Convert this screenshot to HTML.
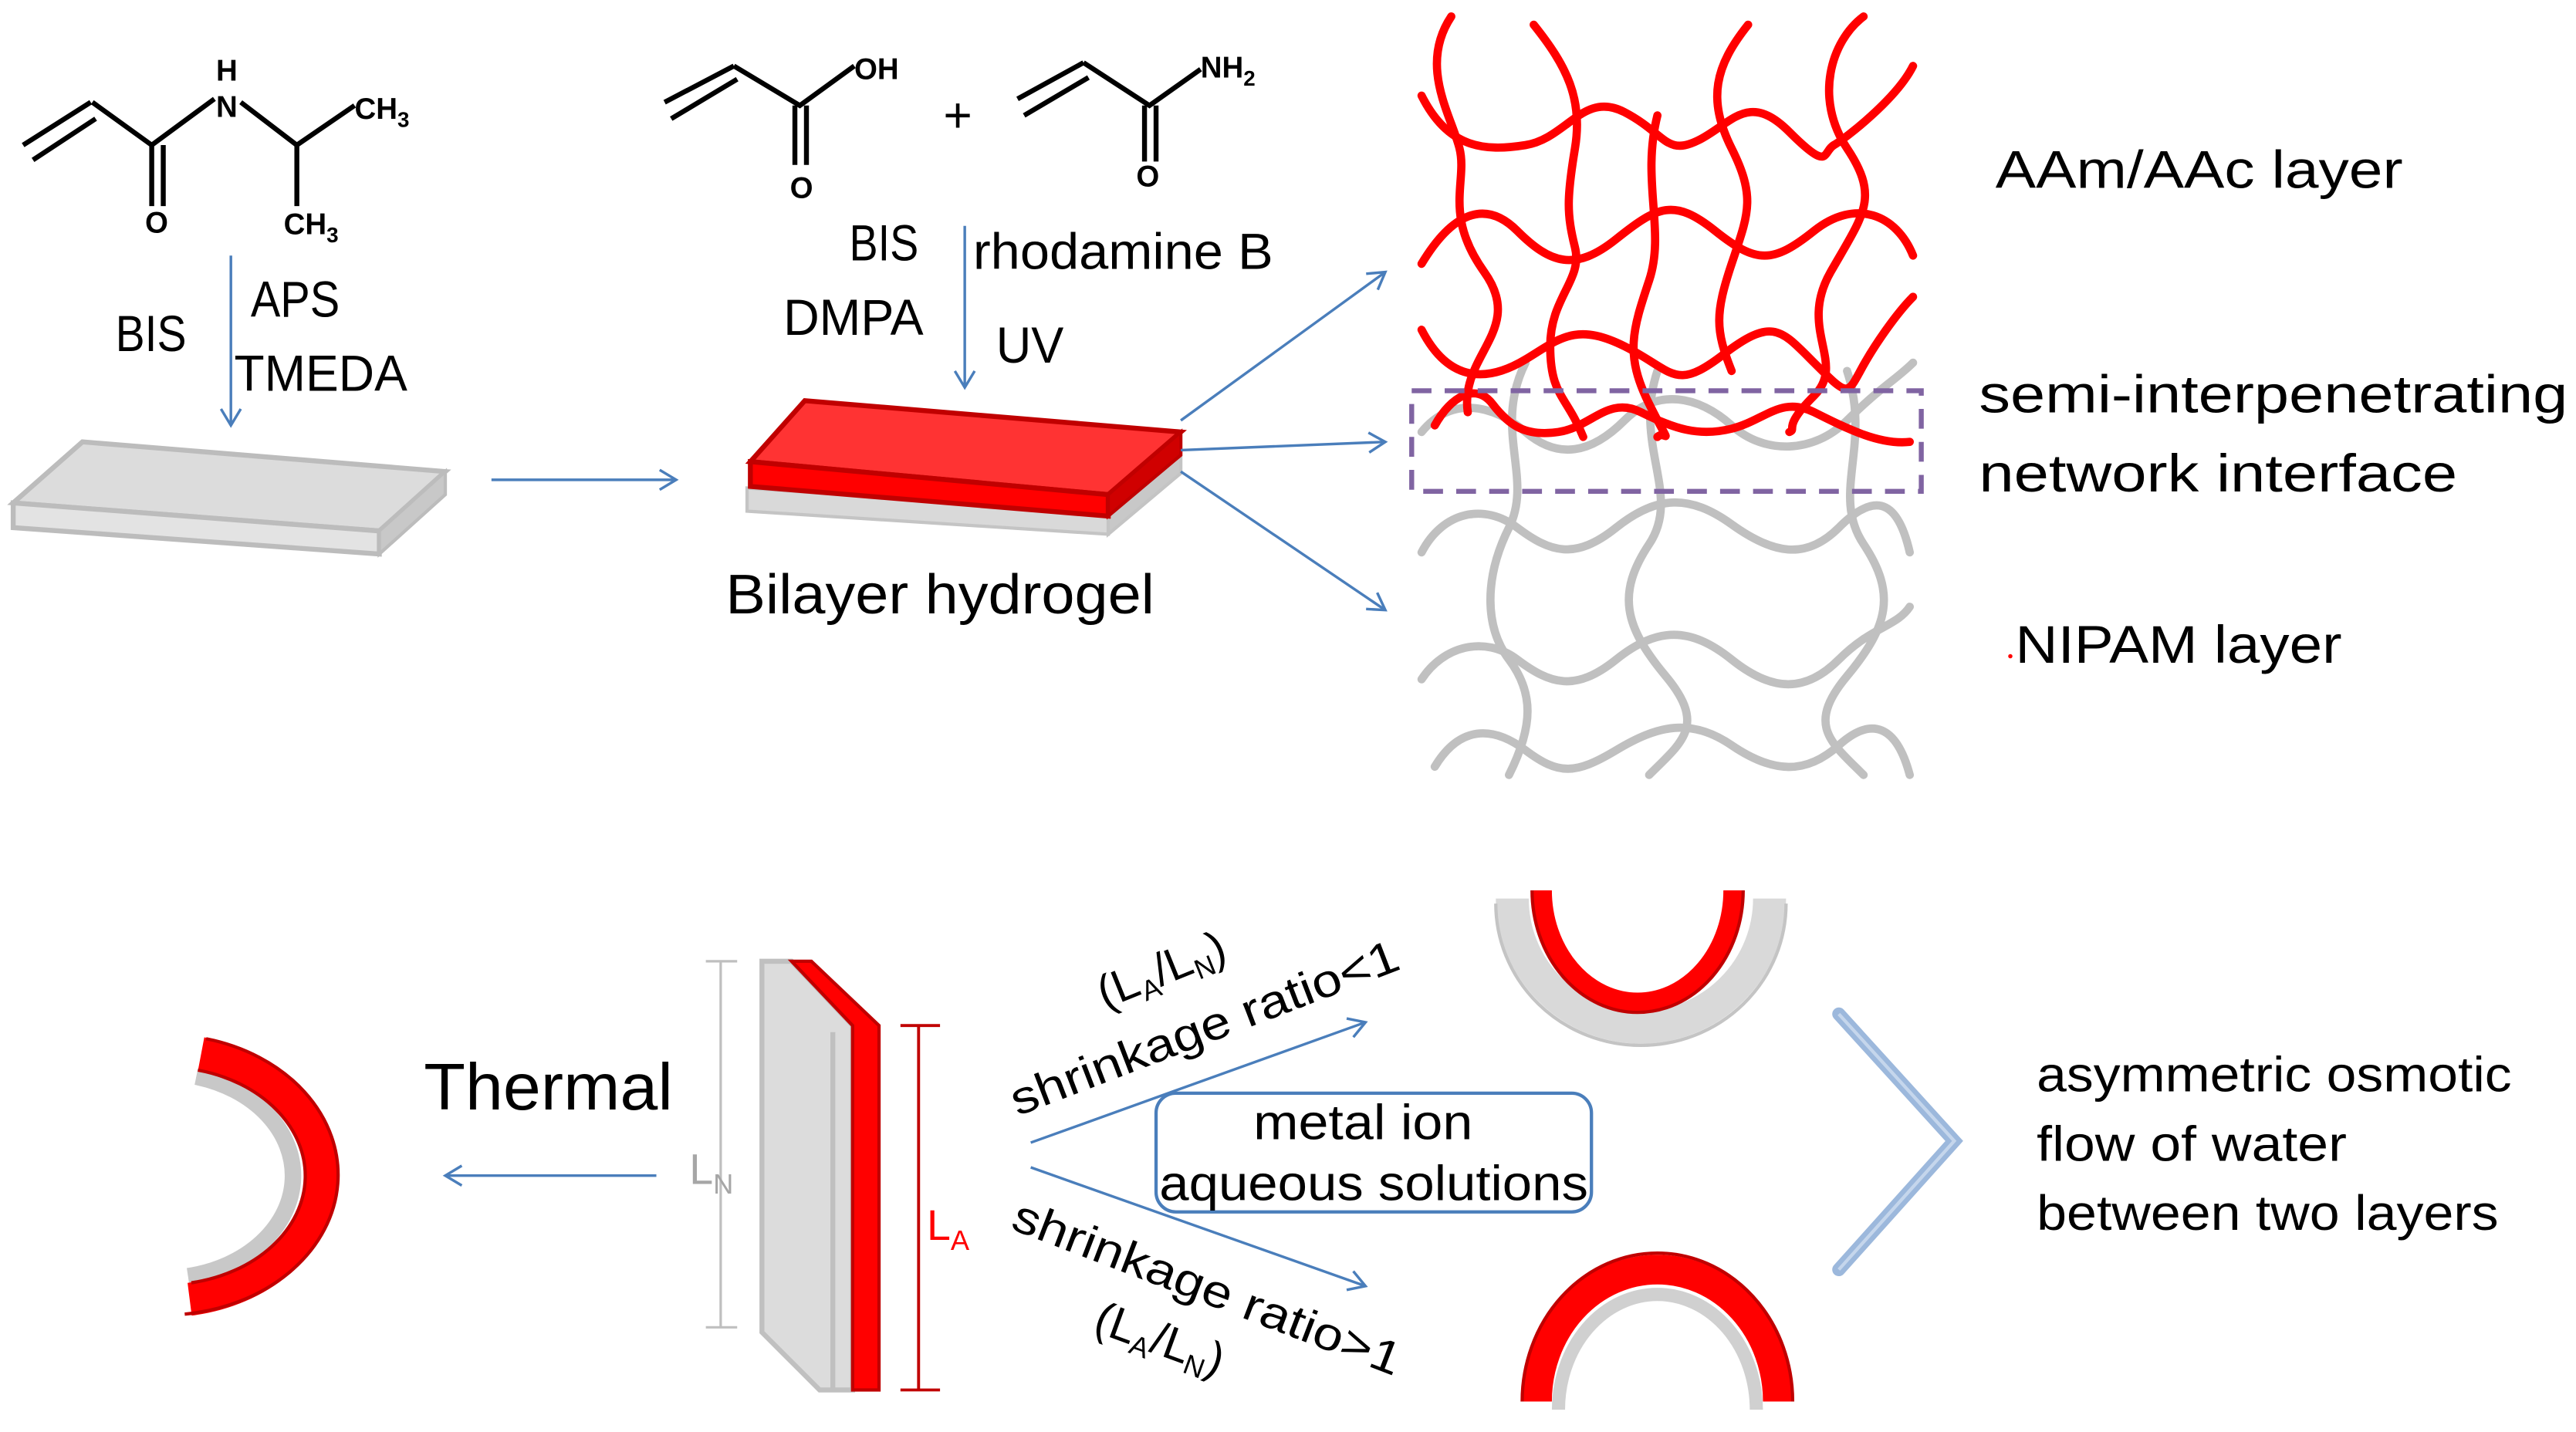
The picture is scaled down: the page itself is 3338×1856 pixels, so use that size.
<!DOCTYPE html>
<html><head><meta charset="utf-8"><style>
html,body{margin:0;padding:0;background:#fff;}
svg{display:block;}
text{font-family:"Liberation Sans",sans-serif;fill:#000;}
</style></head><body>
<svg width="3338" height="1856" viewBox="0 0 1562 868.5" xmlns="http://www.w3.org/2000/svg">
<defs>
<marker id="ah" markerWidth="14" markerHeight="14" refX="12" refY="7" orient="auto" markerUnits="userSpaceOnUse">
<path d="M2,1 L12,7 L2,13" fill="none" stroke="#4a7ebb" stroke-width="1.6"/>
</marker>
</defs>
<!-- NIPAM molecule -->
<g stroke="#000" stroke-width="3" fill="none">
<path d="M14,88 L55,62 M20,97 L58,72 M56,62 L92,88 L130,60 M92,88 L92,125 M99,88 L99,125 M146,62 L180,88 L215,64 M180,88 L180,125"/>
</g>
<g font-size="18" font-weight="bold">
<text x="131" y="49">H</text><text x="131" y="71">N</text>
<text x="215" y="72">CH<tspan font-size="13" dy="5">3</tspan></text>
<text x="88" y="141">O</text>
<text x="172" y="142">CH<tspan font-size="13" dy="5">3</tspan></text>
</g>
<line x1="140" y1="155" x2="140" y2="258" stroke="#4a7ebb" stroke-width="1.6" marker-end="url(#ah)"/>
<g font-size="31">
<text x="70" y="213" textLength="43" lengthAdjust="spacingAndGlyphs">BIS</text>
<text x="152" y="192" textLength="54" lengthAdjust="spacingAndGlyphs">APS</text>
<text x="142" y="237" textLength="105" lengthAdjust="spacingAndGlyphs">TMEDA</text>
</g>
<!-- gray slab -->
<path d="M8,305 L50,268 L270,286 L230,322 Z" fill="#dcdcdc" stroke="#bcbcbc" stroke-width="3"/>
<path d="M8,305 L230,322 L230,336 L8,320 Z" fill="#e3e3e3" stroke="#bcbcbc" stroke-width="3"/>
<path d="M230,322 L270,286 L270,300 L230,336 Z" fill="#c8c8c8" stroke="#bcbcbc" stroke-width="2"/>
<line x1="298" y1="291" x2="410" y2="291" stroke="#4a7ebb" stroke-width="1.6" marker-end="url(#ah)"/>
<!-- acrylic acid + acrylamide -->
<g stroke="#000" stroke-width="3" fill="none">
<path d="M403,62 L445,40 M407,72 L447,48 M445,40 L485,64 L518,40 M482,64 L482,100 M489,64 L489,100"/>
<path d="M617,60 L657,38 M621,70 L660,47 M657,38 L697,64 L728,42 M694,64 L694,98 M701,64 L701,98"/>
</g>
<g font-size="18" font-weight="bold">
<text x="518" y="48">OH</text><text x="479" y="120">O</text>
<text x="728" y="47">NH<tspan font-size="13" dy="5">2</tspan></text><text x="689" y="113">O</text>
</g>
<text x="572" y="80" font-size="30">+</text>
<line x1="585" y1="137" x2="585" y2="235" stroke="#4a7ebb" stroke-width="1.6" marker-end="url(#ah)"/>
<g font-size="31">
<text x="515" y="158" textLength="42" lengthAdjust="spacingAndGlyphs">BIS</text>
<text x="590" y="163" textLength="182" lengthAdjust="spacingAndGlyphs">rhodamine B</text>
<text x="475" y="203" textLength="85" lengthAdjust="spacingAndGlyphs">DMPA</text>
<text x="604" y="220" textLength="41" lengthAdjust="spacingAndGlyphs">UV</text>
</g>
<!-- bilayer -->
<path d="M453,296 L672,311 L672,324 L453,310 Z" fill="#d9d9d9" stroke="#c4c4c4" stroke-width="2"/>
<path d="M672,311 L716,274 L716,287 L672,324 Z" fill="#c8c8c8" stroke="#c4c4c4" stroke-width="2"/>
<path d="M455,280 L488,243 L716,262 L672,300 Z" fill="#ff3333" stroke="#c00000" stroke-width="3"/>
<path d="M455,280 L672,300 L672,313 L455,295 Z" fill="#ff0000" stroke="#c00000" stroke-width="3"/>
<path d="M672,300 L716,262 L716,276 L672,313 Z" fill="#d00000" stroke="#c00000" stroke-width="2"/>
<text x="440" y="372" font-size="34" textLength="260" lengthAdjust="spacingAndGlyphs">Bilayer hydrogel</text>
<line x1="716" y1="255" x2="840" y2="165" stroke="#4a7ebb" stroke-width="1.6" marker-end="url(#ah)"/>
<line x1="716" y1="273" x2="840" y2="268" stroke="#4a7ebb" stroke-width="1.6" marker-end="url(#ah)"/>
<line x1="716" y1="286" x2="840" y2="370" stroke="#4a7ebb" stroke-width="1.6" marker-end="url(#ah)"/>
<!-- gray network -->
<g stroke="#c0c0c0" stroke-width="5" fill="none" stroke-linecap="round">
<path d="M862,262 C880,240 905,245 925,262 S965,275 985,255 S1030,240 1050,258 S1100,275 1120,255 S1150,230 1160,220"/>
<path d="M862,335 C875,310 900,305 920,320 S955,340 980,320 S1025,300 1050,318 S1095,340 1115,320 S1150,300 1158,335"/>
<path d="M862,412 C875,392 900,385 920,400 S955,420 980,400 S1025,380 1050,400 S1095,420 1115,400 S1150,380 1158,368"/>
<path d="M870,465 C885,440 905,440 925,455 S955,470 980,455 S1025,435 1050,452 S1095,470 1115,452 S1150,440 1158,470"/>
<path d="M925,220 C905,260 930,290 915,320 S900,380 915,400 S930,440 915,470"/>
<path d="M1005,225 C990,270 1020,300 1000,330 S985,380 1010,410 S1020,450 1000,470"/>
<path d="M1120,225 C1135,270 1110,300 1130,330 S1145,380 1120,410 S1110,450 1130,470"/>
</g>
<!-- red network -->
<g stroke="#ff0000" stroke-width="5" fill="none" stroke-linecap="round">
<path d="M862,58 C878,90 900,92 925,88 S960,55 985,68 S1010,95 1030,85 S1060,55 1085,80 S1105,92 1112,88 S1150,60 1160,40"/>
<path d="M862,160 C880,130 900,120 920,140 S955,165 980,145 S1015,120 1040,140 S1075,160 1100,140 S1150,130 1160,155"/>
<path d="M862,200 C880,235 905,230 925,218 S955,195 985,210 S1015,238 1045,215 S1080,200 1100,220 S1120,240 1128,225 S1150,190 1160,180"/>
<path d="M870,258 C880,240 895,232 905,245 S925,265 945,262 S975,240 995,250 S1030,265 1050,260 S1080,240 1100,250 S1140,270 1158,268"/>
<path d="M880,10 C860,40 880,70 885,90 S875,130 900,165 S885,215 890,250"/>
<path d="M930,15 C950,40 960,60 955,90 S950,130 955,150 S940,180 940,210 S950,240 960,265"/>
<path d="M1060,15 C1040,40 1035,60 1050,90 S1060,130 1050,160 S1040,200 1050,225"/>
<path d="M1130,10 C1110,25 1100,60 1120,90 S1130,130 1110,165 S1120,220 1100,240 S1090,260 1085,262"/>
<path d="M1005,70 C995,110 1010,140 1000,170 S985,215 1000,245 S1010,260 1005,265"/>
</g>
<rect x="856" y="237" width="309" height="61" fill="none" stroke="#8064a2" stroke-width="3" stroke-dasharray="12,8"/>
<g font-size="32">
<text x="1210" y="114" textLength="247" lengthAdjust="spacingAndGlyphs">AAm/AAc layer</text>
<text x="1200" y="250" textLength="357" lengthAdjust="spacingAndGlyphs">semi-interpenetrating</text>
<text x="1200" y="298" textLength="290" lengthAdjust="spacingAndGlyphs">network interface</text>
<text x="1222" y="402" textLength="198" lengthAdjust="spacingAndGlyphs">NIPAM layer</text>
</g>
<circle cx="1219" cy="398" r="1.3" fill="#ff0000"/>
<!-- bottom left curved -->
<path d="M119,653 A78,62 0 0 1 114,774" fill="none" stroke="#c8c8c8" stroke-width="10"/>
<path d="M122,639 A95,76 0 0 1 115,788" fill="none" stroke="#ff0000" stroke-width="20"/>
<path d="M125,630 A105,85 0 0 1 112,797" fill="none" stroke="#c00000" stroke-width="2"/>
<path d="M120,649 A85,66 0 0 1 116,778" fill="none" stroke="#c00000" stroke-width="2"/>
<text x="257" y="673" font-size="40" textLength="151" lengthAdjust="spacingAndGlyphs">Thermal</text>
<line x1="398" y1="713" x2="270" y2="713" stroke="#4a7ebb" stroke-width="1.6" marker-end="url(#ah)"/>
<!-- vertical slab -->
<g stroke="#bfbfbf" stroke-width="1.5"><line x1="437" y1="583" x2="437" y2="805"/><line x1="428" y1="583" x2="447" y2="583"/><line x1="428" y1="805" x2="447" y2="805"/></g>
<text x="418" y="718" font-size="26" style="fill:#a6a6a6">L<tspan font-size="17" dy="6">N</tspan></text>
<path d="M462,583 L480,583 L517,622 L517,843 L497,843 L462,808 Z" fill="#dcdcdc" stroke="#c0c0c0" stroke-width="3"/>
<path d="M480,583 L492,583 L533,622 L533,843 L517,843 L517,622 Z" fill="#ff0000" stroke="#c00000" stroke-width="2"/>
<path d="M505,626 L505,843" stroke="#c0c0c0" stroke-width="3"/>
<g stroke="#c00000" stroke-width="1.8"><line x1="557" y1="622" x2="557" y2="843"/><line x1="546" y1="622" x2="570" y2="622"/><line x1="546" y1="843" x2="570" y2="843"/></g>
<text x="562" y="752" font-size="26" style="fill:#ff0000">L<tspan font-size="17" dy="6">A</tspan></text>
<line x1="625" y1="693" x2="828" y2="620" stroke="#4a7ebb" stroke-width="1.6" marker-end="url(#ah)"/>
<line x1="625" y1="708" x2="828" y2="780" stroke="#4a7ebb" stroke-width="1.6" marker-end="url(#ah)"/>
<text font-size="28" transform="translate(670,612) rotate(-22)">(L<tspan font-size="17" dy="5">A</tspan><tspan dy="-5">/L</tspan><tspan font-size="17" dy="5">N</tspan><tspan dy="-5">)</tspan></text>
<text font-size="28" transform="translate(617,677) rotate(-21)" textLength="250" lengthAdjust="spacingAndGlyphs">shrinkage ratio&lt;1</text>
<text font-size="28" transform="translate(612,745) rotate(21)" textLength="250" lengthAdjust="spacingAndGlyphs">shrinkage ratio&gt;1</text>
<text font-size="28" transform="translate(662,807) rotate(20)">(L<tspan font-size="17" dy="5">A</tspan><tspan dy="-5">/L</tspan><tspan font-size="17" dy="5">N</tspan><tspan dy="-5">)</tspan></text>
<rect x="701" y="663" width="264" height="72" rx="12" fill="none" stroke="#4a7ebb" stroke-width="2"/>
<text x="760" y="691" font-size="30" textLength="133" lengthAdjust="spacingAndGlyphs">metal ion</text>
<text x="703" y="728" font-size="30" textLength="260" lengthAdjust="spacingAndGlyphs">aqueous solutions</text>
<!-- U shape -->
<path d="M917,545 A78,78 0 0 0 1073,545" fill="none" stroke="#d9d9d9" stroke-width="20"/>
<path d="M907,548 A88,86 0 0 0 1083,548" fill="none" stroke="#c4c4c4" stroke-width="2"/>
<path d="M935,540 A58,68 0 0 0 1051,540" fill="none" stroke="#ff0000" stroke-width="12"/>
<path d="M929,540 A64,74 0 0 0 1057,540" fill="none" stroke="#c00000" stroke-width="2"/>
<!-- arch -->
<path d="M932,850 A73,80 0 0 1 1078,850" fill="none" stroke="#ff0000" stroke-width="18"/>
<path d="M923,850 A82,90 0 0 1 1087,850" fill="none" stroke="#c00000" stroke-width="2"/>
<path d="M945,855 A60,70 0 0 1 1065,855" fill="none" stroke="#d0d0d0" stroke-width="8"/>
<!-- chevron -->
<path d="M1115,615 L1185,692 L1115,770" fill="none" stroke="#9cb8dc" stroke-width="8" stroke-linecap="round"/>
<path d="M1115,615 L1185,692 L1115,770" fill="none" stroke="#c5d6ec" stroke-width="2"/>
<g font-size="30">
<text x="1235" y="662" textLength="288" lengthAdjust="spacingAndGlyphs">asymmetric osmotic</text>
<text x="1235" y="704" textLength="188" lengthAdjust="spacingAndGlyphs">flow of water</text>
<text x="1235" y="746" textLength="280" lengthAdjust="spacingAndGlyphs">between two layers</text>
</g>
</svg>
</body></html>
